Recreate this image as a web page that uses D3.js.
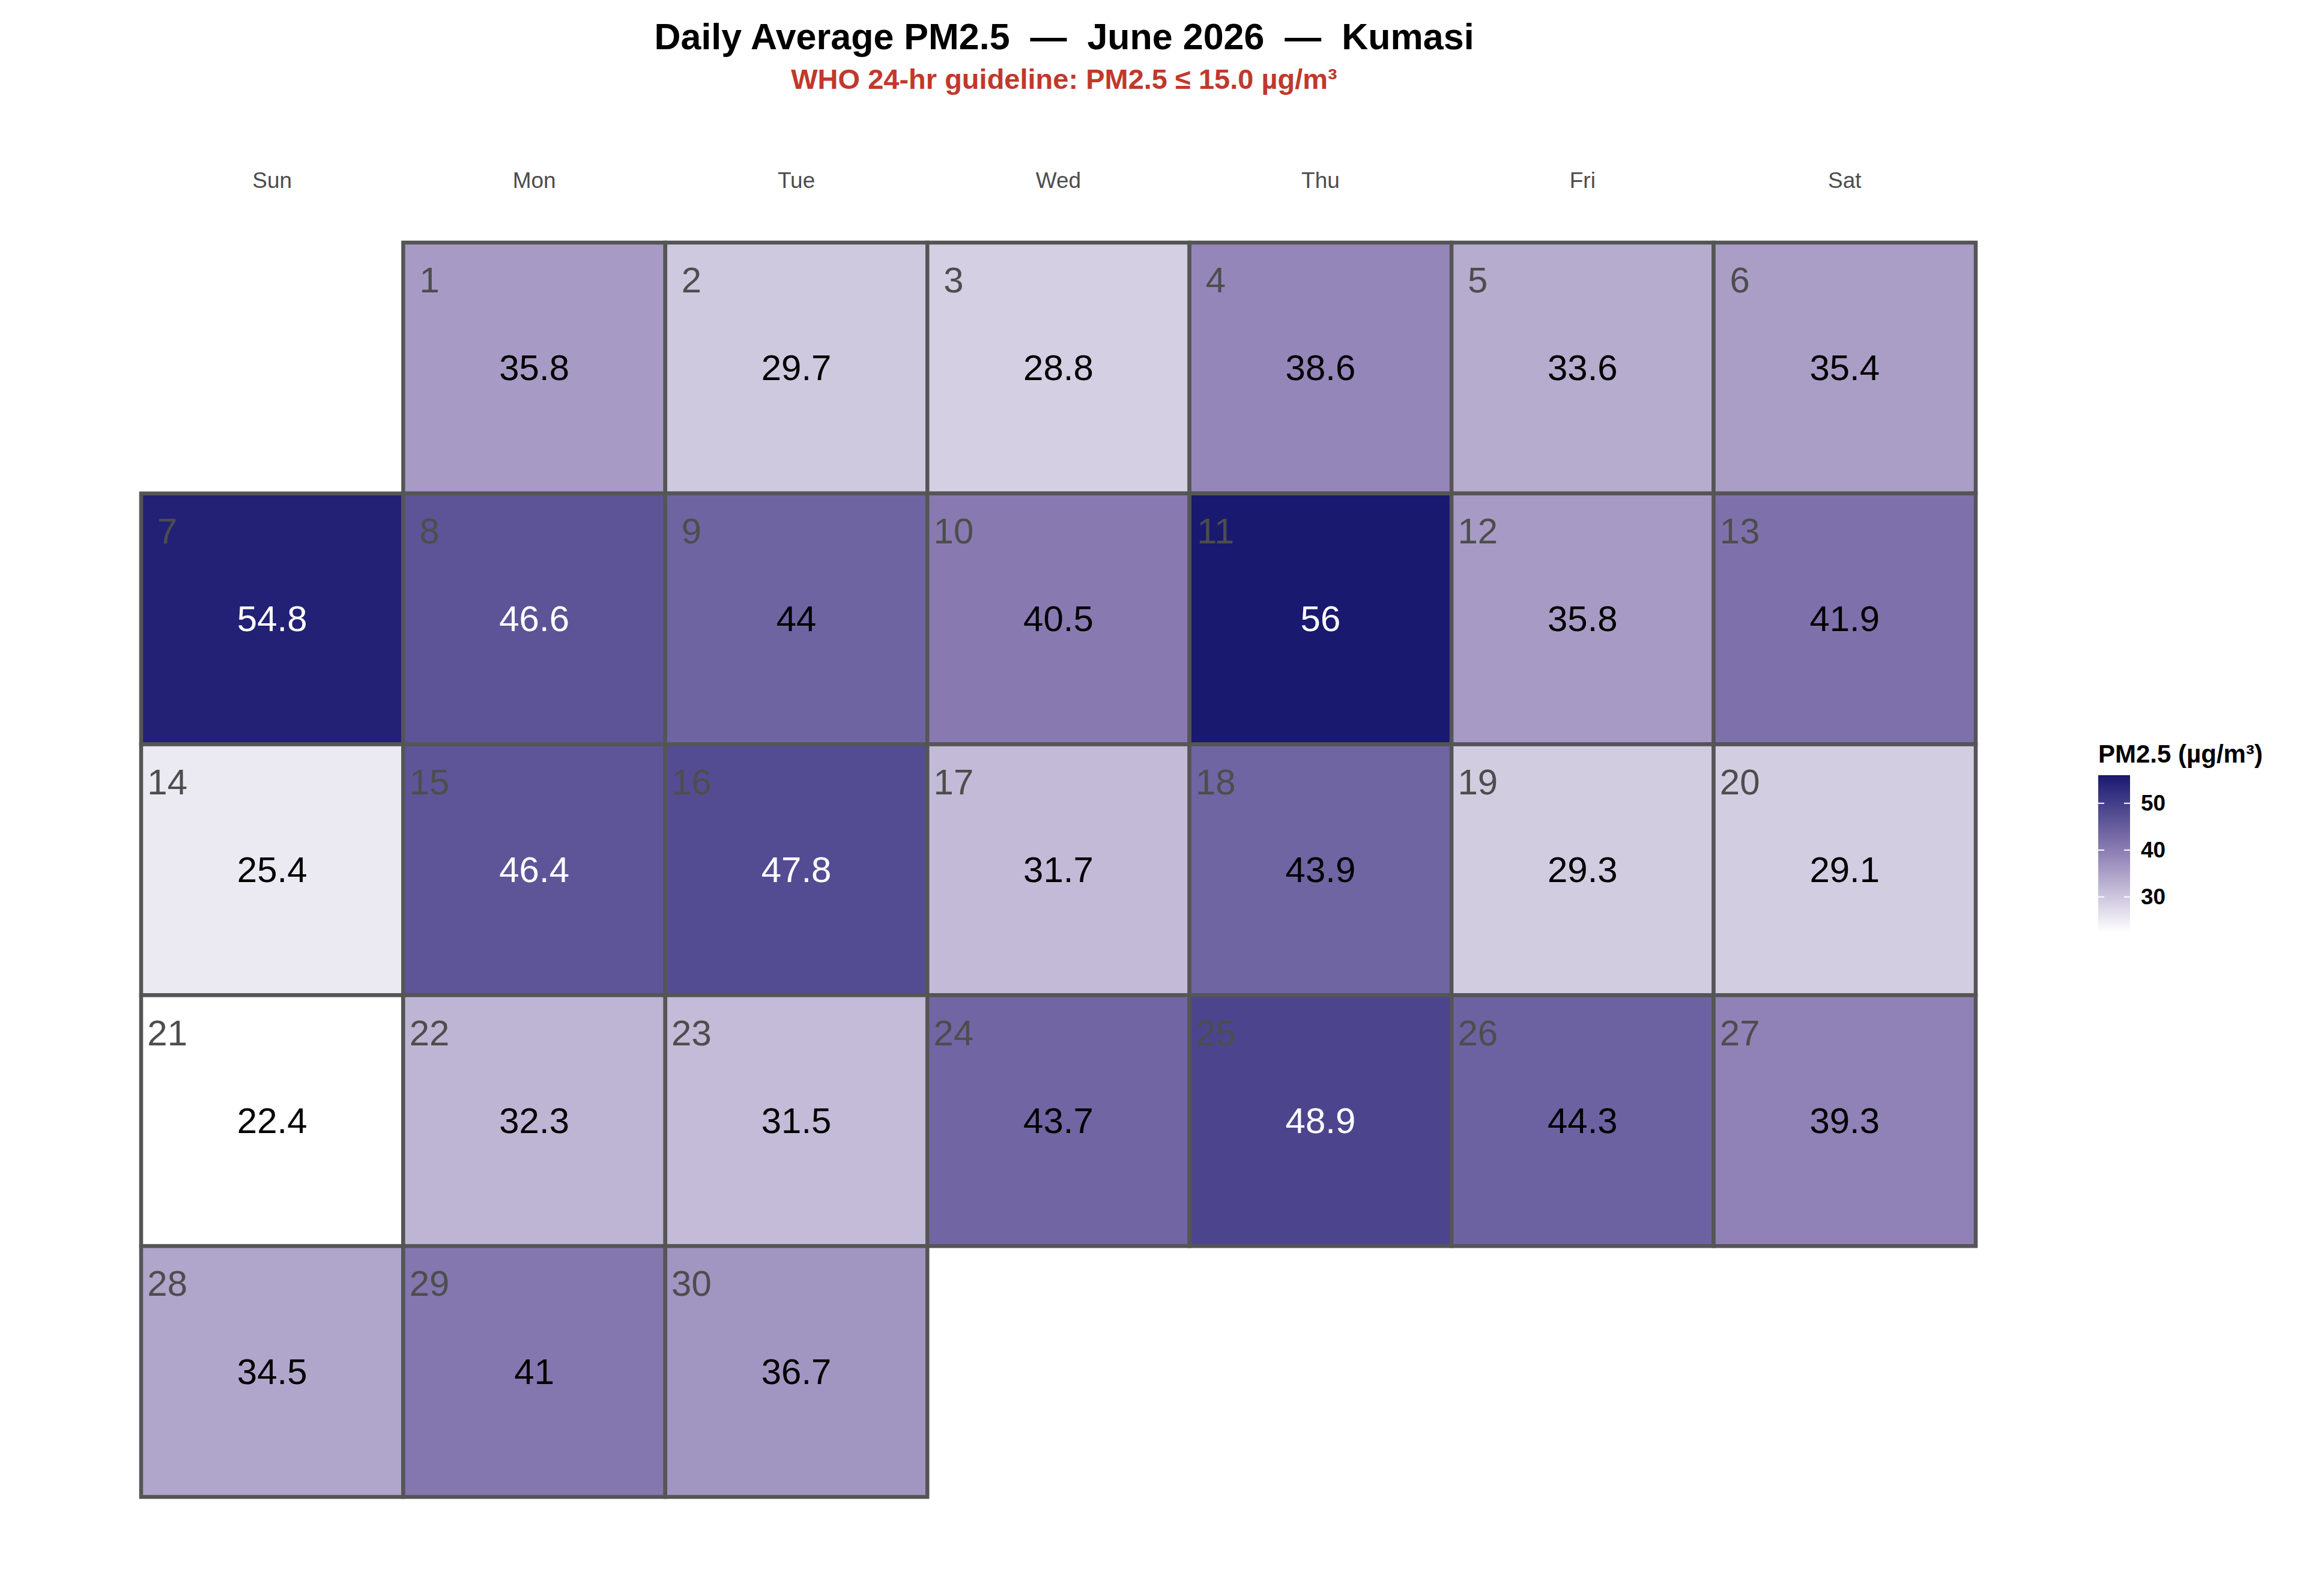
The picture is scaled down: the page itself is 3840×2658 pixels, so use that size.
<!DOCTYPE html>
<html>
<head>
<meta charset="utf-8">
<title>Daily Average PM2.5 — June 2026 — Kumasi</title>
<script src="https://d3js.org/d3.v7.min.js"></script>
<style>
  body { margin: 0; background: #fff; }
  text { font-family: "Liberation Sans", Arial, sans-serif; white-space: pre; }
</style>
</head>
<body>
<div id="chart"></div>
<script>
// data
const weekdays = ["Sun", "Mon", "Tue", "Wed", "Thu", "Fri", "Sat"];
const days = d3.range(1, 31);
const pm25 = [35.8, 29.7, 28.8, 38.6, 33.6, 35.4, 54.8, 46.6, 44, 40.5,
              56, 35.8, 41.9, 25.4, 46.4, 47.8, 31.7, 43.9, 29.3, 29.1,
              22.4, 32.3, 31.5, 43.7, 48.9, 44.3, 39.3, 34.5, 41, 36.7];
const firstWeekday = 1; // June 1 2026 is a Monday
const legendTicks = [30, 40, 50];

const width = 3840, height = 2658;

const svg = d3.select("#chart").append("svg")
    .attr("width", width)
    .attr("height", height);

const cells = days.map((d, i) => ({
    day: d,
    value: pm25[i],
    col: (d - 1 + firstWeekday) % 7,
    week: Math.floor((d - 1 + firstWeekday) / 7)
}));

const x = d3.scaleBand().domain(d3.range(7)).range([235, 3290]);
const y = d3.scaleBand().domain(d3.range(5)).range([404, 2493]);

const extent = d3.extent(pm25);
const color = d3.scaleLinear()
    .domain([extent[0], (extent[0] + extent[1]) / 2, extent[1]])
    .range(["#ffffff", "#9182b6", "#191970"]);

// title
svg.append("text")
    .attr("x", 1772).attr("y", 82)
    .attr("text-anchor", "middle")
    .style("font-size", "61px").style("font-weight", "bold")
    .text("Daily Average PM2.5  —  June 2026  —  Kumasi");

svg.append("text")
    .attr("x", 1772).attr("y", 148)
    .attr("text-anchor", "middle")
    .style("font-size", "47px").style("font-weight", "bold")
    .attr("fill", "#c0392b")
    .text("WHO 24-hr guideline: PM2.5 ≤ 15.0 µg/m³");

// weekday labels
svg.append("g").selectAll("text")
    .data(weekdays)
    .join("text")
    .attr("x", (d, i) => x(i) + x.bandwidth() / 2)
    .attr("y", 313)
    .attr("text-anchor", "middle")
    .attr("fill", "#4d4d4d")
    .style("font-size", "37px")
    .text(d => d);

// tiles
const tiles = svg.append("g").selectAll("g")
    .data(cells)
    .join("g")
    .attr("transform", d => `translate(${x(d.col)},${y(d.week)})`);

tiles.append("rect")
    .attr("width", x.bandwidth())
    .attr("height", y.bandwidth())
    .attr("fill", d => color(d.value))
    .attr("stroke", "#555555")
    .attr("stroke-width", 6.5);

tiles.append("text")
    .attr("x", x.bandwidth() * 0.1)
    .attr("y", y.bandwidth() * 0.15)
    .attr("text-anchor", "middle")
    .attr("dominant-baseline", "central")
    .attr("fill", "#4d4d4d")
    .style("font-size", "60px")
    .text(d => d.day);

tiles.append("text")
    .attr("x", x.bandwidth() / 2)
    .attr("y", y.bandwidth() / 2)
    .attr("text-anchor", "middle")
    .attr("dominant-baseline", "central")
    .attr("fill", d => d.value > 45 ? "#ffffff" : "#000000")
    .style("font-size", "60px")
    .text(d => String(d.value));

// legend
const lg = svg.append("g");
const barX = 3494, barW = 53, barTop = 1291, barBottom = 1553;
const ly = d3.scaleLinear().domain(extent).range([barBottom, barTop]);

const grad = svg.append("defs").append("linearGradient")
    .attr("id", "pmgrad")
    .attr("x1", 0).attr("y1", 1).attr("x2", 0).attr("y2", 0);
d3.range(0, 1.0001, 0.05).forEach(t => {
    grad.append("stop")
        .attr("offset", t)
        .attr("stop-color", color(extent[0] + t * (extent[1] - extent[0])));
});

lg.append("text")
    .attr("x", barX).attr("y", 1270)
    .style("font-size", "42px").style("font-weight", "bold")
    .text("PM2.5 (µg/m³)");

lg.append("rect")
    .attr("x", barX).attr("y", barTop)
    .attr("width", barW).attr("height", barBottom - barTop)
    .attr("fill", "url(#pmgrad)");

const tk = lg.selectAll("g.tick")
    .data(legendTicks)
    .join("g")
    .attr("class", "tick")
    .attr("transform", d => `translate(0,${ly(d)})`);

tk.append("line")
    .attr("x1", barX).attr("x2", barX + 10)
    .attr("stroke", "#ffffff").attr("stroke-width", 2);
tk.append("line")
    .attr("x1", barX + barW - 10).attr("x2", barX + barW)
    .attr("stroke", "#ffffff").attr("stroke-width", 2);
tk.append("text")
    .attr("x", 3565)
    .attr("dominant-baseline", "central")
    .style("font-size", "37px").style("font-weight", "bold")
    .text(d => d);
</script>
</body>
</html>
